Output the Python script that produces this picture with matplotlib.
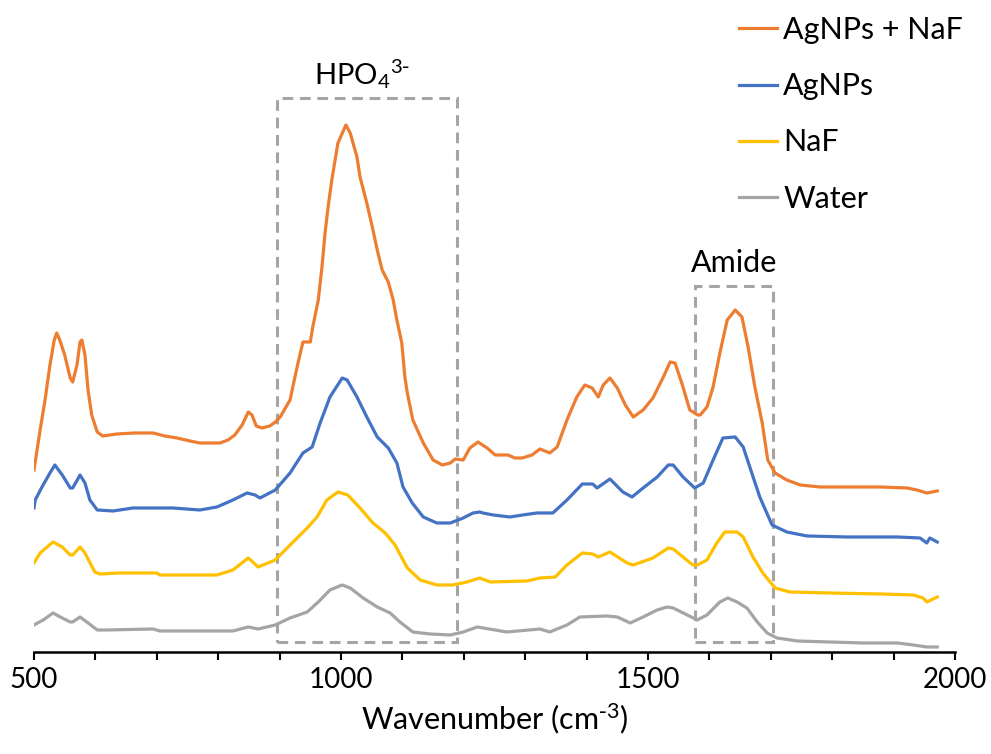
import matplotlib
matplotlib.use("Agg")
import matplotlib.pyplot as plt
from matplotlib.patches import Rectangle

plt.rcParams['font.family'] = ['Lato', 'DejaVu Sans']
plt.rcParams['mathtext.default'] = 'regular'

# spectra (wavenumber, offset intensity in arbitrary units)
wn_agnps_naf = [500, 510, 518, 526, 533, 537, 542, 550, 559, 563, 570, 575, 578, 583, 588, 594, 603, 612,
                635, 664, 694, 713, 733, 754, 770, 803, 816, 827, 839, 849, 855, 862, 871, 884, 893, 901,
                917, 925, 930, 938, 950, 954, 963, 969, 974, 979, 985, 995, 1008, 1015, 1026, 1031, 1042,
                1051, 1059, 1067, 1077, 1085, 1091, 1099, 1104, 1108, 1117, 1134, 1150, 1165, 1178, 1186,
                1199, 1210, 1223, 1238, 1251, 1272, 1283, 1295, 1311, 1324, 1340, 1352, 1368, 1384, 1397,
                1409, 1419, 1427, 1438, 1450, 1463, 1476, 1492, 1508, 1525, 1536, 1544, 1555, 1568, 1581,
                1585, 1596, 1606, 1617, 1629, 1642, 1653, 1663, 1674, 1686, 1695, 1707, 1726, 1748, 1780,
                1824, 1878, 1922, 1938, 1954, 1971]
int_agnps_naf = [182, 222, 252, 287, 312, 319, 312, 297, 274, 270, 287, 310, 312, 297, 262, 237, 220, 216,
                 218, 219, 219, 216, 214, 211, 209, 209, 212, 217, 227, 240, 237, 226, 224, 226, 230, 235,
                 252, 275, 289, 310, 310, 325, 352, 385, 419, 445, 472, 509, 527, 519, 495, 475, 449,
                 425, 402, 382, 370, 352, 332, 309, 275, 259, 232, 209, 192, 187, 189, 193,
                 192, 204, 210, 204, 197, 197, 194, 194, 197, 203, 199, 205, 232, 255, 267,
                 264, 255, 267, 274, 264, 247, 235, 242, 254, 275, 290, 289, 269, 242, 237,
                 237, 245, 265, 299, 332, 342, 335, 305, 265, 229, 192, 179, 172, 167, 165,
                 165, 165, 164, 162, 159, 161]

wn_agnps = [500, 502, 513, 526, 534, 546, 559, 563, 575, 583, 591, 603, 629, 661, 726, 770, 798, 824, 847,
            860, 868, 893, 917, 938, 953, 966, 982, 1002, 1010, 1026, 1042, 1059, 1077, 1091, 1101, 1116,
            1134, 1156, 1178, 1199, 1215, 1226, 1231, 1248, 1275, 1296, 1319, 1345, 1368, 1393, 1410,
            1417, 1438, 1459, 1474, 1492, 1515, 1533, 1541, 1557, 1576, 1590, 1606, 1622, 1642, 1655,
            1669, 1682, 1702, 1726, 1759, 1824, 1906, 1943, 1954, 1959, 1971]
int_agnps = [144, 152, 165, 179, 187, 177, 164, 164, 177, 169, 152, 142, 141, 144, 144, 142, 145, 152, 159,
             157, 154, 162, 179, 199, 205, 229, 255, 274, 272, 255, 235, 215, 204, 189, 165, 149,
             135, 129, 129, 134, 139, 140, 139, 137, 135, 137, 139, 139, 152, 168, 168,
             164, 173, 160, 155, 164, 175, 187, 187, 175, 164, 169, 192, 214, 215, 205,
             179, 155, 127, 120, 116, 115, 115, 114, 109, 114, 110]

wn_naf = [500, 510, 531, 546, 559, 563, 575, 583, 599, 607, 640, 700, 705, 798, 824, 849, 865, 893, 922,
          945, 961, 977, 995, 1011, 1031, 1052, 1072, 1088, 1108, 1129, 1156, 1182, 1205, 1226, 1243,
          1303, 1324, 1349, 1368, 1393, 1410, 1419, 1438, 1466, 1476, 1508, 1533, 1541, 1557, 1573,
          1580, 1596, 1612, 1625, 1645, 1655, 1671, 1687, 1707, 1731, 1796, 1878, 1932, 1948, 1954, 1971]
int_naf = [89, 99, 110, 105, 97, 97, 105, 99, 80, 78, 79, 79, 77, 77, 82, 94, 85, 92, 110,
           124, 135, 152, 160, 157, 144, 129, 119, 107, 84, 72, 67, 67, 70, 74, 70,
           71, 74, 75, 87, 99, 98, 95, 100, 89, 87, 94, 104, 103, 95, 87,
           87, 92, 109, 120, 120, 115, 95, 79, 64, 60, 59, 58, 57, 54, 50, 55]

wn_water = [500, 515, 531, 546, 559, 563, 575, 586, 603, 619, 694, 705, 824, 849, 865, 893, 917, 945, 963,
            982, 1002, 1015, 1036, 1059, 1080, 1096, 1117, 1145, 1178, 1199, 1222, 1270, 1324, 1340,
            1368, 1389, 1433, 1450, 1471, 1492, 1515, 1531, 1541, 1564, 1580, 1596, 1617, 1630, 1645,
            1661, 1678, 1694, 1710, 1743, 1796, 1850, 1906, 1932, 1954, 1971]
int_water = [27, 32, 39, 34, 30, 30, 35, 30, 22, 22, 23, 21, 21, 25, 23, 27, 34, 40, 50,
             62, 67, 64, 54, 45, 39, 30, 20, 18, 17, 20, 25, 20, 23, 20,
             27, 35, 36, 35, 29, 35, 42, 45, 44, 37, 32, 37, 50, 54, 50,
             44, 30, 19, 14, 11, 10, 9, 9, 7, 5, 5]

labels = ['AgNPs + NaF', 'AgNPs', 'NaF', 'Water']
colors = ['#ED7D31', '#4472C4', '#FFC000', '#A5A5A5']

# highlighted regions: (x0, x1, top)
box_hpo4 = (896, 1189, 554)
box_amide = (1577, 1704, 366)
box_bottom = 10

fig = plt.figure(figsize=(9.91, 7.54), dpi=100)
ax = fig.add_axes([0.0343, 0.1353, 0.9294, 0.8647])

series = [(wn_agnps_naf, int_agnps_naf), (wn_agnps, int_agnps), (wn_naf, int_naf), (wn_water, int_water)]
for (x, y), lab, c in zip(series, labels, colors):
    ax.plot(x, y, color=c, lw=2.3, label=lab, solid_joinstyle='round')

for x0, x1, top in [box_hpo4, box_amide]:
    ax.add_patch(Rectangle((x0, box_bottom), x1 - x0, top - box_bottom, fill=False,
                           edgecolor='#A5A5A5', lw=2.2, linestyle=(0, (3.5, 2.2))))

ax.text((box_hpo4[0] + box_hpo4[1]) / 2 - 8, 567, r'HPO$_4$$^{3\text{-}}$',
        ha='center', va='baseline', fontsize=21)
ax.text((box_amide[0] + box_amide[1]) / 2, 380, 'Amide',
        ha='center', va='baseline', fontsize=22)

ax.set_xlim(500, 2000)
ax.set_ylim(0, 652)
ax.set_xticks([500, 1000, 1500, 2000])
ax.set_xticks(range(500, 2001, 100), minor=True)
ax.tick_params(axis='x', which='both', direction='out', length=6, width=1.5, labelsize=20, pad=5)
ax.set_yticks([])
for s in ['top', 'right', 'left']:
    ax.spines[s].set_visible(False)
ax.spines['bottom'].set_linewidth(1.8)
ax.set_xlabel(r'Wavenumber (cm$^{\text{-}3}$)', fontsize=22, labelpad=6)

fig.legend(loc='upper left', bbox_to_anchor=(0.718, 1.015), frameon=False, fontsize=22,
           handlelength=1.25, handletextpad=0.2, labelspacing=0.92)

fig.savefig('out.png', dpi=100)
